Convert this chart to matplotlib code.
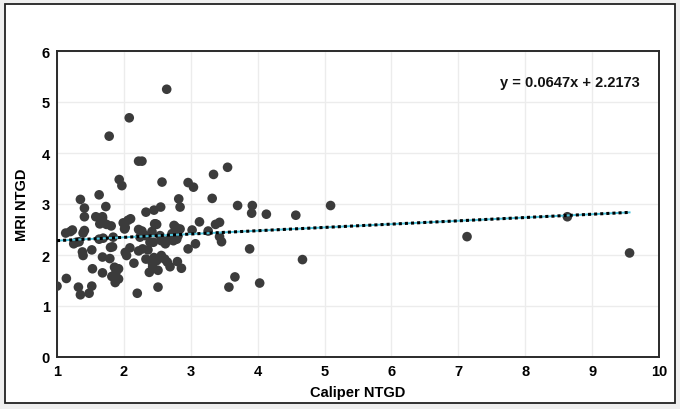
import matplotlib
matplotlib.use('Agg')
from matplotlib import pyplot as plt
from matplotlib.patches import Rectangle
import numpy as np

# Caliper NTGD (x) vs MRI NTGD (y)
caliper = [2.64, 2.08, 1.78, 2.22, 2.27, 1.93, 1.97, 2.57, 2.96, 3.04,
           3.34, 3.55, 1.35, 1.63, 1.41, 1.41, 1.73, 2.82, 2.84, 3.32,
           3.70, 3.92, 3.91, 4.13, 4.57, 5.09, 2.33, 2.45, 2.55, 1.58,
           1.68, 1.64, 1.74, 1.81, 1.99, 2.06, 2.10, 2.47, 2.49, 3.13,
           3.37, 3.43, 1.13, 1.20, 1.23, 1.41, 1.39, 1.25, 1.29, 1.33,
           1.38, 1.39, 1.52, 1.68, 1.79, 1.80, 1.83, 1.63, 1.69, 1.84,
           1.53, 1.68, 1.86, 1.92, 1.88, 1.82, 1.92, 1.87, 1.14, 1.00,
           1.32, 1.35, 1.48, 1.52, 2.02, 2.04, 2.09, 2.15, 2.20, 2.22,
           2.27, 2.24, 2.32, 2.22, 2.28, 2.36, 2.33, 2.39, 2.54, 2.56,
           2.44, 2.45, 2.49, 2.43, 2.38, 2.51, 2.56, 2.61, 2.65, 2.69,
           2.62, 2.65, 2.74, 2.79, 2.81, 2.78, 2.84, 2.80, 2.86, 2.96,
           3.07, 3.02, 3.26, 3.43, 3.46, 3.88, 4.67, 3.66, 3.57, 4.03,
           8.63, 9.56, 7.13, 1.68, 2.75, 2.01, 2.02, 2.42, 2.46, 2.42,
           2.72, 2.51]
mri = [5.25, 4.69, 4.33, 3.84, 3.84, 3.48, 3.36, 3.43, 3.42, 3.33,
       3.58, 3.72, 3.09, 3.18, 2.92, 2.75, 2.95, 3.10, 2.94, 3.11,
       2.97, 2.97, 2.82, 2.80, 2.78, 2.97, 2.84, 2.88, 2.94, 2.75,
       2.75, 2.61, 2.60, 2.57, 2.63, 2.68, 2.71, 2.61, 2.60, 2.65,
       2.60, 2.64, 2.43, 2.46, 2.49, 2.48, 2.43, 2.22, 2.25, 2.26,
       2.06, 1.99, 2.10, 1.96, 1.93, 2.15, 2.16, 2.31, 2.33, 2.35,
       1.73, 1.65, 1.76, 1.73, 1.65, 1.58, 1.53, 1.46, 1.54, 1.39,
       1.37, 1.22, 1.25, 1.39, 2.05, 1.99, 2.14, 1.84, 1.25, 2.50,
       2.47, 2.35, 2.38, 2.08, 2.12, 2.10, 1.92, 2.25, 2.38, 2.28,
       2.25, 1.95, 1.89, 1.77, 1.66, 1.37, 1.99, 1.92, 1.86, 1.77,
       2.22, 2.28, 2.28, 2.31, 2.38, 2.54, 2.51, 1.87, 1.74, 2.12,
       2.22, 2.49, 2.47, 2.36, 2.26, 2.12, 1.91, 1.57, 1.37, 1.45,
       2.75, 2.04, 2.36, 2.72, 2.58, 2.51, 2.54, 1.86, 2.61, 2.46,
       2.42, 1.70]

slope = 0.0647
intercept = 2.2173
eq_label = 'y = 0.0647x + 2.2173'

x_ticks = [1, 2, 3, 4, 5, 6, 7, 8, 9, 10]
y_ticks = [0, 1, 2, 3, 4, 5, 6]

plt.rcParams['font.family'] = ['Liberation Sans', 'DejaVu Sans']

fig = plt.figure(figsize=(6.8, 4.1), dpi=100, facecolor='#efefef')
frame = Rectangle((5 / 680, 6 / 410), 670 / 680, 399 / 410,
                  transform=fig.transFigure, facecolor='white',
                  edgecolor='#222222', linewidth=1.3, zorder=-10)
fig.add_artist(frame)
ax = fig.add_axes([57 / 680, 52 / 410, 602 / 680, 306 / 410])
ax.set_facecolor('white')

ax.scatter(caliper, mri, s=48, color='#3b3b3b', edgecolors='none', zorder=3)

# trendline
line_x = np.array([min(caliper), max(caliper)])
line_y = slope * line_x + intercept
ax.plot(line_x, line_y, color='#4cc3dc', linewidth=1.4, zorder=4)
ax.plot(line_x, line_y, color='black', linewidth=2.2,
        linestyle=(0, (1, 1)), dash_capstyle='butt', zorder=5)

ax.text(8.67, 5.39, eq_label, fontsize=10.5, fontweight='bold',
        ha='center', va='center', color='#111111')

ax.set_xlim(1, 10)
ax.set_ylim(0, 6)
ax.set_xticks(x_ticks)
ax.set_yticks(y_ticks)
ax.tick_params(length=0, labelsize=10.5, pad=5)
for lab in ax.get_xticklabels() + ax.get_yticklabels():
    lab.set_fontweight('bold')
ax.grid(color='#ececec', linewidth=1)
ax.set_axisbelow(True)
for sp in ax.spines.values():
    sp.set_color('#2a2a2a')
    sp.set_linewidth(1.4)

ax.set_xlabel('Caliper NTGD', fontsize=10.5, fontweight='bold', labelpad=5)
ax.set_ylabel('MRI NTGD', fontsize=10.5, fontweight='bold', labelpad=9)

fig.savefig('out.png', dpi=100, facecolor=fig.get_facecolor())
